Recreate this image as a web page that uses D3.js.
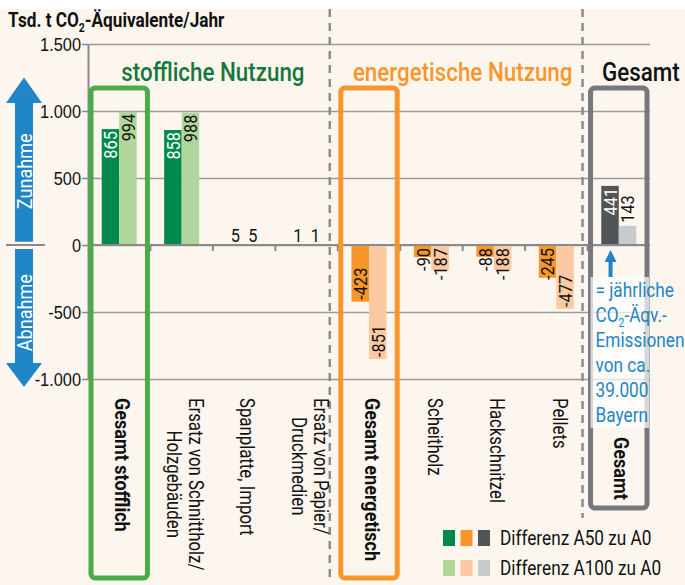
<!DOCTYPE html>
<html>
<head>
<meta charset="utf-8">
<script src="https://cdn.jsdelivr.net/npm/d3@7"></script>
<style>
  body { margin: 0; background: #fff; }
  svg { display: block; font-family: Roboto, 'Liberation Sans', sans-serif; }
</style>
</head>
<body>
<div id="chart"></div>
<script>
const categories = ['Gesamt stofflich', 'Ersatz von Schnittholz/|Holzgebäuden', 'Spanplatte, Import', 'Ersatz von Papier/|Druckmedien', 'Gesamt energetisch', 'Scheitholz', 'Hackschnitzel', 'Pellets', 'Gesamt']
const categoryGroup = [0, 0, 0, 0, 1, 1, 1, 1, 2]
const groupNames = ['stoffliche Nutzung', 'energetische Nutzung', 'Gesamt']
const diffA50 = [865, 858, 5, 1, -423, -90, -88, -245, 441]
const diffA100 = [994, 988, 5, 1, -851, -187, -188, -477, 143]
const seriesNames = ['Differenz A50 zu A0', 'Differenz A100 zu A0']
const yTicks = [-1000, -500, 0, 500, 1000, 1500]
const yTitle = 'Tsd. t CO₂-Äquivalente/Jahr'
const arrowLabels = ['Zunahme', 'Abnahme']
const noteLines = ['= jährliche', 'CO₂-Äqv.-', 'Emissionen', 'von ca.', '39.000', 'Bayern']

const width = 685
const height = 585
const plot = { left: 88, right: 650, top: 44, bottom: 379 }
const darkColors = ['#00894a', '#f7962b', '#525557']
const lightColors = ['#b1d69c', '#fcc9a2', '#c8cacb']
const darkLabelColors = ['#fff', '#111', '#fff']
const groupTitleColors = ['#17783c', '#f7962b', '#111']
const boxColors = ['#4caa4a', '#f7962b', '#76787b']
const blue = '#2086c8'
const narrow = 0.86 // the original uses a condensed face

const de = d3.formatLocale({ decimal: ',', thousands: '.', grouping: [3], currency: ['', '€'], minus: '-' })
const fmt = de.format(',')

const svg = d3.select('#chart')
  .append('svg')
  .attr('width', width)
  .attr('height', height)

svg.append('rect')
  .attr('x', 0)
  .attr('y', 9)
  .attr('width', width)
  .attr('height', height - 9)
  .attr('fill', '#fdf6ef')

const x = d3.scaleBand().domain(categories).range([plot.left, plot.right])
const barWidth = 17.5
const xSeries = d3.scaleBand().domain([0, 1]).range([-barWidth, barWidth])
const y = d3.scaleLinear().domain([-1000, 1500]).range([plot.bottom, plot.top])

function squeeze (sel) {
  sel.each(function () {
    const len = this.getComputedTextLength()
    d3.select(this).attr('textLength', len * narrow).attr('lengthAdjust', 'spacingAndGlyphs')
  })
  return sel
}

// text with a subscript 2 (CO2), narrowed with a scale instead of textLength
function subText (parent, px, py, str, size, subSize) {
  const t = parent.append('text')
    .attr('transform', `translate(${px},${py}) scale(${narrow},1)`)
    .attr('font-size', size)
  str.split('₂').forEach((p, i) => {
    if (i > 0) {
      t.append('tspan').attr('font-size', subSize).attr('dy', 5).text('2')
      t.append('tspan').attr('dy', -5).text(p)
    } else {
      t.append('tspan').text(p)
    }
  })
  return t
}

// gridlines
svg.append('g')
  .attr('transform', `translate(${plot.left},0)`)
  .call(d3.axisLeft(y).tickValues(yTicks).tickSize(-(plot.right - plot.left)).tickFormat(''))
  .call(g => g.select('.domain').remove())
  .call(g => g.selectAll('line').attr('stroke', '#9b9b9b').attr('stroke-width', 1.5))

// y axis
svg.append('g')
  .attr('transform', `translate(${plot.left},0)`)
  .call(d3.axisLeft(y).tickValues(yTicks).tickSize(6).tickSizeOuter(0).tickPadding(1).tickFormat(fmt))
  .call(g => g.select('.domain').attr('stroke', '#8a8a8a').attr('stroke-width', 2))
  .call(g => g.selectAll('line').attr('stroke', '#8a8a8a').attr('stroke-width', 1.5))
  .call(g => squeeze(g.selectAll('text').attr('font-size', 19).attr('fill', '#111').attr('font-family', 'inherit')))

// dashed separators between the groups
const separators = [x(categories[4]) - 8, x(categories[8]) - 5]
svg.append('g')
  .selectAll('line')
  .data(separators)
  .join('line')
  .attr('x1', d => d)
  .attr('x2', d => d)
  .attr('y1', 9)
  .attr('y2', (d, i) => i === 0 ? 580 : 518)
  .attr('stroke', '#8c8c8c')
  .attr('stroke-width', 2.5)
  .attr('stroke-dasharray', '8,6')

// bars
const series = [diffA50, diffA100]
const palettes = [darkColors, lightColors]
series.forEach((values, s) => {
  svg.append('g')
    .selectAll('rect')
    .data(values)
    .join('rect')
    .attr('x', (d, i) => x(categories[i]) + x.bandwidth() / 2 + xSeries(s))
    .attr('width', xSeries.bandwidth())
    .attr('y', d => y(Math.max(0, d)))
    .attr('height', d => Math.abs(y(d) - y(0)))
    .attr('fill', (d, i) => palettes[s][categoryGroup[i]])
})

// zero line + ticks between categories
svg.append('line')
  .attr('x1', plot.left)
  .attr('x2', plot.right)
  .attr('y1', y(0))
  .attr('y2', y(0))
  .attr('stroke', '#8a8a8a')
  .attr('stroke-width', 2)
svg.append('g')
  .selectAll('line')
  .data(categories.slice(1))
  .join('line')
  .attr('x1', d => x(d))
  .attr('x2', d => x(d))
  .attr('y1', y(0))
  .attr('y2', y(0) + 6)
  .attr('stroke', '#8a8a8a')
  .attr('stroke-width', 2)

// boxes round the totals
svg.append('g')
  .selectAll('rect')
  .data(categories.filter(c => c.startsWith('Gesamt')))
  .join('rect')
  .attr('x', d => x(d) + 3)
  .attr('y', 88)
  .attr('width', x.bandwidth() - 6)
  .attr('height', (d, i) => (i === 2 ? 508 : 578) - 88)
  .attr('rx', 4)
  .attr('fill', 'none')
  .attr('stroke', (d, i) => boxColors[i])
  .attr('stroke-width', 5)

// value labels
series.forEach((values, s) => {
  values.forEach((v, i) => {
    const cx = x(categories[i]) + x.bandwidth() / 2 + xSeries(s) + xSeries.bandwidth() / 2
    if (Math.abs(v) < 10) {
      squeeze(svg.append('text')
        .attr('x', cx)
        .attr('y', y(0) - 3)
        .attr('text-anchor', 'middle')
        .attr('font-size', 19)
        .attr('fill', '#111')
        .text(fmt(v)))
      return
    }
    const t = svg.append('text')
      .attr('font-size', 19)
      .attr('dy', '0.36em')
      .text(fmt(v))
    const len = t.node().getComputedTextLength() * narrow
    squeeze(t)
    const barLen = Math.abs(y(v) - y(0))
    const inColor = s === 0 ? darkLabelColors[categoryGroup[i]] : '#111'
    if (v > 0) {
      if (barLen >= len + 4) {
        t.attr('text-anchor', 'end')
          .attr('transform', `translate(${cx},${y(v) + 2}) rotate(-90)`)
          .attr('fill', inColor)
      } else {
        t.attr('text-anchor', 'start')
          .attr('transform', `translate(${cx},${y(v) - 3}) rotate(-90)`)
          .attr('fill', '#111')
      }
    } else {
      const pos = Math.max(y(v) - 2, y(0) + 3 + len)
      t.attr('text-anchor', 'start')
        .attr('transform', `translate(${cx},${pos}) rotate(-90)`)
        .attr('fill', pos === y(v) - 2 ? inColor : '#111')
    }
  })
})

// category labels
categories.forEach((c, i) => {
  const lines = c.split('|')
  const bold = c.startsWith('Gesamt')
  const g = svg.append('g')
    .attr('transform', `translate(${x(c) + x.bandwidth() / 2 + 3},${i === 8 ? 437 : 398}) rotate(90)`)
  const texts = lines.map((l, k) => g.append('text')
    .attr('y', (k - (lines.length - 1) / 2) * 22)
    .attr('dy', '0.35em')
    .attr('font-size', bold ? 21 : 19.5)
    .attr('font-weight', bold ? 'bold' : 'normal')
    .attr('fill', '#111')
    .attr('text-anchor', 'middle')
    .text(l))
  const maxLen = d3.max(texts, t => t.node().getComputedTextLength()) * narrow
  texts.forEach(t => squeeze(t).attr('x', maxLen / 2))
})

// group titles
const groupCenters = [
  (x(categories[0]) + x(categories[4])) / 2,
  (x(categories[4]) + x(categories[8])) / 2,
  x(categories[8]) + x.bandwidth() / 2 + 22
]
squeeze(svg.append('g')
  .selectAll('text')
  .data(groupNames)
  .join('text')
  .attr('x', (d, i) => groupCenters[i])
  .attr('y', 81)
  .attr('text-anchor', 'middle')
  .attr('font-size', 26)
  .attr('font-weight', 500)
  .attr('fill', (d, i) => groupTitleColors[i])
  .text(d => d))

// axis title
subText(svg, 8, 27, yTitle, 20, 12)
  .attr('font-weight', 'bold')
  .attr('fill', '#111')

// big arrows left
const ax = 24
const upArrow = [[ax, y(1250)], [ax - 18, y(1060)], [ax - 9, y(1060)], [ax - 9, y(25)], [ax + 9, y(25)], [ax + 9, y(1060)], [ax + 18, y(1060)]]
const downArrow = [[ax, y(-1060)], [ax - 18, y(-880)], [ax - 9, y(-880)], [ax - 9, y(-30)], [ax + 9, y(-30)], [ax + 9, y(-880)], [ax + 18, y(-880)]]
svg.append('g')
  .selectAll('polygon')
  .data([upArrow, downArrow])
  .join('polygon')
  .attr('points', d => d.join(' '))
  .attr('fill', blue)
svg.append('line')
  .attr('x1', 6)
  .attr('x2', 45)
  .attr('y1', y(0))
  .attr('y2', y(0))
  .attr('stroke', '#8a8a8a')
  .attr('stroke-width', 2)
squeeze(svg.append('g')
  .selectAll('text')
  .data(arrowLabels)
  .join('text')
  .attr('transform', (d, i) => `translate(${ax},${i === 0 ? y(550) : y(-505)}) rotate(-90)`)
  .attr('text-anchor', 'middle')
  .attr('dy', '0.36em')
  .attr('font-size', 21)
  .attr('fill', '#fff')
  .text(d => d))

// note next to the total
const noteX = x(categories[8]) + 3
svg.append('rect')
  .attr('x', noteX)
  .attr('y', 277)
  .attr('width', x.bandwidth() - 4)
  .attr('height', 151)
  .attr('fill', '#fff')
  .attr('opacity', 0.7)
const nx = noteX + 20
svg.append('polygon')
  .attr('points', [[nx, 250], [nx - 6, 262], [nx - 2, 262], [nx - 2, 277], [nx + 2, 277], [nx + 2, 262], [nx + 6, 262]].join(' '))
  .attr('fill', blue)
noteLines.forEach((l, k) => {
  subText(svg, noteX + 5, 297 + k * 25, l, 20, 12)
    .attr('fill', blue)
})

// legend
const legend = svg.append('g').attr('transform', 'translate(443,530)')
seriesNames.forEach((name, s) => {
  const row = legend.append('g').attr('transform', `translate(0,${s * 30})`)
  row.selectAll('rect')
    .data(palettes[s])
    .join('rect')
    .attr('x', (d, i) => i * 17.5)
    .attr('width', 12)
    .attr('height', 16)
    .attr('fill', d => d)
  squeeze(row.append('text')
    .attr('x', 57)
    .attr('y', 15)
    .attr('font-size', 20)
    .attr('fill', '#111')
    .text(name))
})
</script>
</body>
</html>
